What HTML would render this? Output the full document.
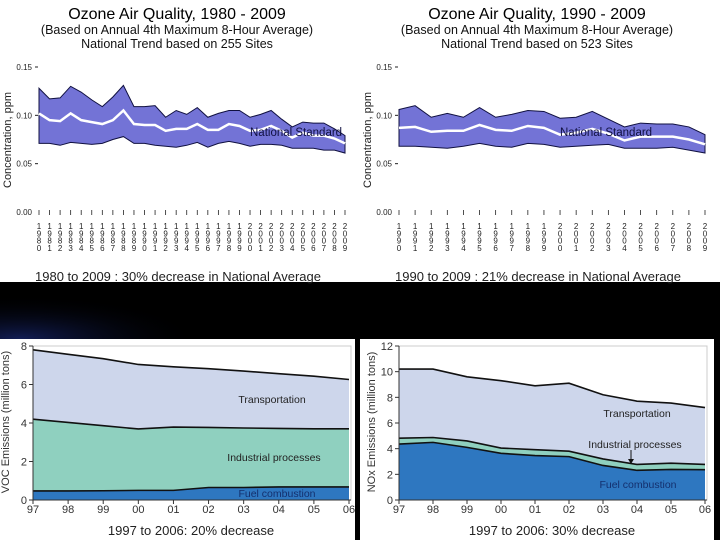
<!DOCTYPE html>
<html><head><meta charset="utf-8"><style>
html,body{margin:0;padding:0;background:#000;}
svg{display:block;font-family:"Liberation Sans",sans-serif;}
</style></head><body>
<svg id="s" width="720" height="540" viewBox="0 0 720 540" xmlns="http://www.w3.org/2000/svg">
<defs>
<radialGradient id="sw" cx="0.1" cy="1" r="0.9"><stop offset="0" stop-color="#1a2a7a" stop-opacity="0.7"/><stop offset="1" stop-color="#000" stop-opacity="0"/></radialGradient>
</defs>
<rect x="0" y="0" width="720" height="540" fill="#000"/>
<rect x="0" y="0" width="720" height="282" fill="#fff"/>
<rect x="0" y="290" width="200" height="49" fill="url(#sw)"/>
<rect x="0" y="339" width="355" height="201" fill="#fff"/>
<rect x="360" y="339" width="354" height="201" fill="#fff"/>
</svg>
<script>
// Ozone 1980-2009
const years1 = [1980,1981,1982,1983,1984,1985,1986,1987,1988,1989,1990,1991,1992,1993,1994,1995,1996,1997,1998,1999,2000,2001,2002,2003,2004,2005,2006,2007,2008,2009];
const high1 = [0.128,0.117,0.118,0.130,0.124,0.116,0.109,0.119,0.131,0.109,0.109,0.110,0.098,0.105,0.101,0.108,0.098,0.102,0.105,0.105,0.098,0.101,0.105,0.096,0.088,0.093,0.092,0.092,0.086,0.079];
const mean1 = [0.102,0.095,0.094,0.102,0.095,0.093,0.091,0.095,0.105,0.091,0.090,0.090,0.084,0.086,0.086,0.091,0.085,0.085,0.091,0.089,0.084,0.085,0.089,0.084,0.077,0.082,0.079,0.079,0.076,0.071];
const low1 = [0.071,0.071,0.069,0.072,0.071,0.070,0.071,0.075,0.078,0.071,0.071,0.069,0.068,0.067,0.069,0.072,0.067,0.071,0.073,0.071,0.068,0.070,0.070,0.069,0.066,0.066,0.066,0.064,0.064,0.061];
// Ozone 1990-2009
const years2 = [1990,1991,1992,1993,1994,1995,1996,1997,1998,1999,2000,2001,2002,2003,2004,2005,2006,2007,2008,2009];
const high2 = [0.106,0.110,0.098,0.102,0.098,0.108,0.098,0.101,0.105,0.104,0.097,0.098,0.104,0.096,0.088,0.092,0.091,0.091,0.088,0.080];
const mean2 = [0.087,0.088,0.083,0.084,0.084,0.090,0.085,0.084,0.089,0.087,0.080,0.082,0.086,0.081,0.074,0.078,0.078,0.078,0.075,0.070];
const low2 = [0.068,0.068,0.067,0.066,0.068,0.071,0.068,0.067,0.071,0.070,0.067,0.068,0.069,0.070,0.066,0.066,0.066,0.067,0.064,0.061];
const ozoneTicks = [0.00,0.05,0.10,0.15];
const ozoneTickLabels = ["0.00","0.05","0.10","0.15"];
// Emissions
const emisCats = ["97","98","99","00","01","02","03","04","05","06"];
const vocFuel = [0.47,0.47,0.48,0.50,0.50,0.65,0.65,0.68,0.68,0.68];
const vocIndustrial = [3.73,3.56,3.38,3.19,3.29,3.12,3.09,3.04,3.02,3.02];
const vocTransport = [3.60,3.54,3.48,3.35,3.13,3.05,2.96,2.84,2.73,2.56];
const vocTicks = [0,2,4,6,8];
const noxFuel = [4.36,4.49,4.10,3.64,3.46,3.38,2.69,2.31,2.38,2.36];
const noxIndustrial = [0.46,0.38,0.50,0.41,0.46,0.42,0.51,0.46,0.49,0.41];
const noxTransport = [5.38,5.33,5.00,5.25,4.98,5.30,5.00,4.93,4.68,4.43];
const noxTicks = [0,2,4,6,8,10,12];

const svg = document.getElementById('s');
const NS = 'http://www.w3.org/2000/svg';
function mk(tag, attrs, parent){const e=document.createElementNS(NS,tag);for(const k in attrs)e.setAttribute(k,attrs[k]);(parent||svg).appendChild(e);return e;}
function txt(x,y,s,size,attrs){const e=mk('text',Object.assign({x:x,y:y,'font-size':size},attrs||{}));e.textContent=s;return e;}

function ozone(ox, years, high, mean, low, title, sites, caption, key){
  const x0=ox+39, x1=ox+345, yTop=67, yBot=212;
  const X=i=>x0+(x1-x0)*i/(years.length-1);
  const Y=v=>yBot-(v-0)/(0.15)*(yBot-yTop);
  const g=mk('g',{});
  
  
  let t=txt(ox+177,19,title,16,{'text-anchor':'middle',fill:'#000'},);
  
  
  g.appendChild(t);
  t=txt(ox+177,34,'(Based on Annual 4th Maximum 8-Hour Average)',12.5,{'text-anchor':'middle',fill:'#111'});
  
  
  g.appendChild(t);
  t=txt(ox+177,48,'National Trend based on '+sites+' Sites',12.5,{'text-anchor':'middle',fill:'#111'});
  
  
  g.appendChild(t);
  ozoneTicks.forEach((v,i)=>{
    const l=txt(ox+32,Y(v)+3,ozoneTickLabels[i],8,{'text-anchor':'end',fill:'#222'});
    
    
    g.appendChild(l);
    if(v>0){const tk=mk('line',{x1:ox+35,x2:ox+38,y1:Y(v),y2:Y(v),stroke:'#222','stroke-width':1},g);
    
    }
  });
  t=txt(ox+11,140,'Concentration, ppm',11,{'text-anchor':'middle',fill:'#222',transform:'rotate(-90 '+(ox+11)+' 140)'});
  
  
  g.appendChild(t);
  let d='M'+X(0)+','+Y(high[0]);
  for(let i=1;i<years.length;i++)d+=' L'+X(i)+','+Y(high[i]);
  for(let i=years.length-1;i>=0;i--)d+=' L'+X(i)+','+Y(low[i]);
  d+=' Z';
  const band=mk('path',{d:d,fill:'#7373d6',stroke:'#101040','stroke-width':1},g);
  
  
  let md='';
  mean.forEach((v,i)=>{md+=(i?' L':'M')+X(i)+','+Y(v);});
  const ml=mk('path',{d:md,fill:'none',stroke:'#fff','stroke-width':2.5},g);
  
  
  t=txt(key==='ozone-1980'?ox+250:ox+200,136,'National Standard',11.5,{fill:'#101040'});
  
  
  g.appendChild(t);
  years.forEach((yr,i)=>{
    const tk=mk('line',{x1:X(i),x2:X(i),y1:210,y2:215,stroke:'#222','stroke-width':0.8},g);
    
    
    const s=String(yr);
    const l=mk('text',{x:X(i),'font-size':8,'text-anchor':'middle',fill:'#222'},g);
    
    
    for(let k=0;k<4;k++){const ts=mk('tspan',{x:X(i),y:229+k*7.3},l);ts.textContent=s[k];}
  });
  t=txt(ox+35,281,caption,13,{fill:'#222'});
  
  
  g.appendChild(t);
}
ozone(0,years1,high1,mean1,low1,'Ozone Air Quality, 1980 - 2009','255','1980 to 2009 :  30% decrease in National Average','ozone-1980');
ozone(360,years2,high2,mean2,low2,'Ozone Air Quality, 1990 - 2009','523','1990 to 2009 :  21% decrease in National Average','ozone-1990');

function emis(x0,x1,maxV,ticks,fuel,ind,tr,key,ytitle,caption,labels){
  const yTop=346,yBot=500;
  const X=i=>x0+(x1-x0)*i/(emisCats.length-1);
  const Y=v=>yBot-v/maxV*(yBot-yTop);
  const g=mk('g',{});
  
  
  const fr=mk('rect',{x:x0,y:yTop,width:x1-x0+2,height:yBot-yTop,fill:'#fff',stroke:'#ccc','stroke-width':1},g);
  
  
  const c1=fuel.map(v=>v);
  const c2=fuel.map((v,i)=>v+ind[i]);
  const c3=c2.map((v,i)=>v+tr[i]);
  const layers=[[c3,c2,'#cdd6eb','transportation'],[c2,c1,'#8fd0bf','industrial-processes'],[c1,null,'#2e77c0','fuel-combustion']];
  layers.forEach(L=>{
    let d='';
    L[0].forEach((v,i)=>{d+=(i?' L':'M')+X(i)+','+Y(v);});
    for(let i=emisCats.length-1;i>=0;i--)d+=' L'+X(i)+','+Y(L[1]?L[1][i]:0);
    d+=' Z';
    const p=mk('path',{d:d,fill:L[2]},g);
    
    
  });
  [c3,c2,c1].forEach(arr=>{
    let d='';arr.forEach((v,i)=>{d+=(i?' L':'M')+X(i)+','+Y(v);});
    const p=mk('path',{d:d,fill:'none',stroke:'#111','stroke-width':1.6},g);
    
    
  });
  const ax=mk('line',{x1:x0,x2:x1+2,y1:yBot,y2:yBot,stroke:'#333','stroke-width':1},g);
  
  
  const ay=mk('line',{x1:x0,x2:x0,y1:yTop,y2:yBot,stroke:'#333','stroke-width':1},g);
  
  
  ticks.forEach(v=>{
    const tk=mk('line',{x1:x0-4,x2:x0,y1:Y(v),y2:Y(v),stroke:'#333'},g);
    
    
    const l=txt(x0-6,Y(v)+4,String(v),11,{'text-anchor':'end',fill:'#333'});
    
    
    g.appendChild(l);
  });
  emisCats.forEach((c,i)=>{
    const tk=mk('line',{x1:X(i),x2:X(i),y1:yBot,y2:yBot+4,stroke:'#333'},g);
    
    
    const l=txt(X(i),yBot+13,c,11,{'text-anchor':'middle',fill:'#333'});
    
    
    g.appendChild(l);
  });
  const yt=txt(x0-24,422,ytitle,11,{'text-anchor':'middle',fill:'#333',transform:'rotate(-90 '+(x0-24)+' 422)'});
  
  
  g.appendChild(yt);
  const cp=txt((x0+x1)/2,535,caption,13,{'text-anchor':'middle',fill:'#222'});
  
  
  g.appendChild(cp);
  labels.forEach(L=>{
    const l=txt(L[0],L[1],L[2],10.5,{'text-anchor':'middle',fill:L[3]});
    
    
    g.appendChild(l);
  });
  return g;
}
emis(33,349,8,vocTicks,vocFuel,vocIndustrial,vocTransport,'voc','VOC Emissions (million tons)','1997 to 2006: 20% decrease',
 [[272,403,'Transportation','#222','transportation'],[274,461,'Industrial processes','#222','industrial'],[277,497,'Fuel combustion','#14306e','fuel']]);
const ng=emis(399,705,12,noxTicks,noxFuel,noxIndustrial,noxTransport,'nox','NOx Emissions (million tons)','1997 to 2006: 30% decrease',
 [[637,417,'Transportation','#222','transportation'],[635,448,'Industrial processes','#222','industrial'],[638,488,'Fuel combustion','#14306e','fuel']]);
const ar=mk('line',{x1:631,x2:631,y1:450,y2:462,stroke:'#111','stroke-width':1},ng);


const ah=mk('path',{d:'M628,459 L631,464 L634,459 Z',fill:'#111'},ng);


</script>
</body></html>
